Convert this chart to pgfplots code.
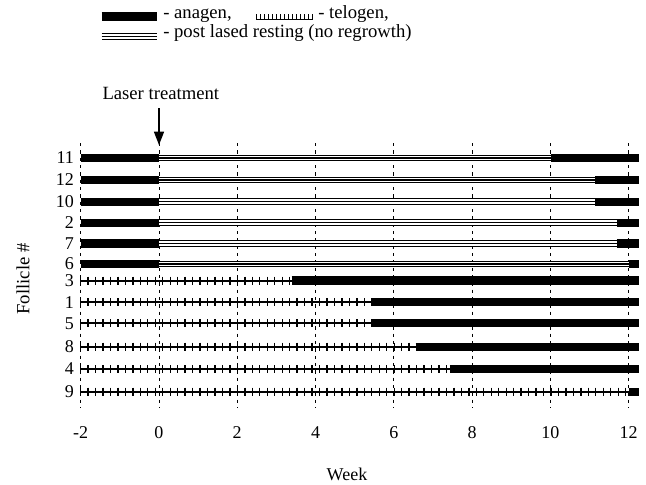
\documentclass[border=0pt]{standalone}
\usepackage{fontspec}
\setmainfont{Liberation Serif}
\usepackage{pgfplots}
\pgfplotsset{compat=1.18}
\usetikzlibrary{decorations.pathreplacing,arrows.meta}

% three kinds of segment
\tikzset{
  anagen/.style={black, line width=6.2pt},
  telogen/.style={black, line width=1.5pt,
    postaction={decorate, draw, line width=1.0pt,
      decoration={ticks, segment length=5.6pt, amplitude=3pt}}},
  resting/.style={black, line width=5.2pt,
    postaction={draw, white, line width=3.4pt},
    postaction={draw, black, line width=1.1pt}},
}
\newcommand{\seg}[4]{\addplot[#1] coordinates {(#2,#4) (#3,#4)};}
\newcommand{\lbl}{\fontsize{14}{16}\selectfont}

\begin{document}
\begin{tikzpicture}
\useasboundingbox (0,0) rectangle (484.5pt,-363.75pt);
\begin{axis}[
  at={(60.45pt,-306pt)}, anchor=south west,
  scale only axis, width=419pt, height=198.75pt,
  xmin=-2, xmax=12.27, ymin=143, ymax=408, y dir=reverse,
  axis line style={draw=none}, major tick length=0pt,
  xtick={-2,0,2,4,6,8,10,12}, xticklabels={-2,0,2,4,6,8,10,12},
  ytick={158,180,201.7,222.7,243.5,264,280.5,302.3,323.3,346.7,369,391.7},
  yticklabels={11,12,10,2,7,6,3,1,5,8,4,9},
  xmajorgrids,
  major grid style={black, line width=0.5pt, dash pattern=on 2.5pt off 3pt},
  tick label style={font=\fontsize{13.5}{15}\selectfont},
  xticklabel style={yshift=-10.7pt},
  yticklabel style={xshift=-1.5pt},
  clip=false, no markers,
]
% follicle 11
\seg{anagen}{-2}{0}{158}
\seg{resting}{0}{10.02}{158}
\seg{anagen}{10.02}{12.27}{158}
% follicle 12
\seg{anagen}{-2}{0}{180}
\seg{resting}{0}{11.14}{180}
\seg{anagen}{11.14}{12.27}{180}
% follicle 10
\seg{anagen}{-2}{0}{201.7}
\seg{resting}{0}{11.14}{201.7}
\seg{anagen}{11.14}{12.27}{201.7}
% follicle 2
\seg{anagen}{-2}{0}{222.7}
\seg{resting}{0}{11.7}{222.7}
\seg{anagen}{11.7}{12.27}{222.7}
% follicle 7
\seg{anagen}{-2}{0}{243.5}
\seg{resting}{0}{11.7}{243.5}
\seg{anagen}{11.7}{12.27}{243.5}
% follicle 6
\seg{anagen}{-2}{0}{264}
\seg{resting}{0}{12.0}{264}
\seg{anagen}{12.0}{12.27}{264}
% follicle 3
\seg{telogen}{-2}{3.39}{280.5}
\seg{anagen}{3.39}{12.27}{280.5}
% follicle 1
\seg{telogen}{-2}{5.43}{302.3}
\seg{anagen}{5.43}{12.27}{302.3}
% follicle 5
\seg{telogen}{-2}{5.43}{323.3}
\seg{anagen}{5.43}{12.27}{323.3}
% follicle 8
\seg{telogen}{-2}{6.56}{346.7}
\seg{anagen}{6.56}{12.27}{346.7}
% follicle 4
\seg{telogen}{-2}{7.43}{369}
\seg{anagen}{7.43}{12.27}{369}
% follicle 9
\seg{telogen}{-2}{12.0}{391.7}
\seg{anagen}{12.0}{12.27}{391.7}
\end{axis}

\begin{scope}[x=0.75pt,y=-0.75pt]
  \node[font=\lbl] at (160.8,93.5) {Laser treatment};
  \draw[line width=1.1pt, -{Triangle[length=10pt,width=7.5pt]}] (159,108) -- (159,145);
  \node[rotate=90, font=\lbl] at (23,279) {Follicle \#};
  \node[font=\fontsize{13.5}{15}\selectfont] at (347,474) {Week};
  % legend
  \draw[line width=6.5pt] (101.7,16.7) -- (156.7,16.7);
  \node[anchor=base west, font=\lbl, inner sep=0pt] at (163,18.5) {- anagen,};
  \draw[line width=0.7pt] (256,19) -- (313,19);
  \foreach \x in {256,260,...,312} \draw[line width=0.7pt] (\x,19) -- (\x,14);
  \node[anchor=base west, font=\lbl, inner sep=0pt] at (318,18.5) {- telogen,};
  \draw[resting] (101.7,36.5) -- (156.7,36.5);
  \node[anchor=base west, font=\lbl, inner sep=0pt] at (163,38) {- post lased resting (no regrowth)};
\end{scope}
\end{tikzpicture}
\end{document}
